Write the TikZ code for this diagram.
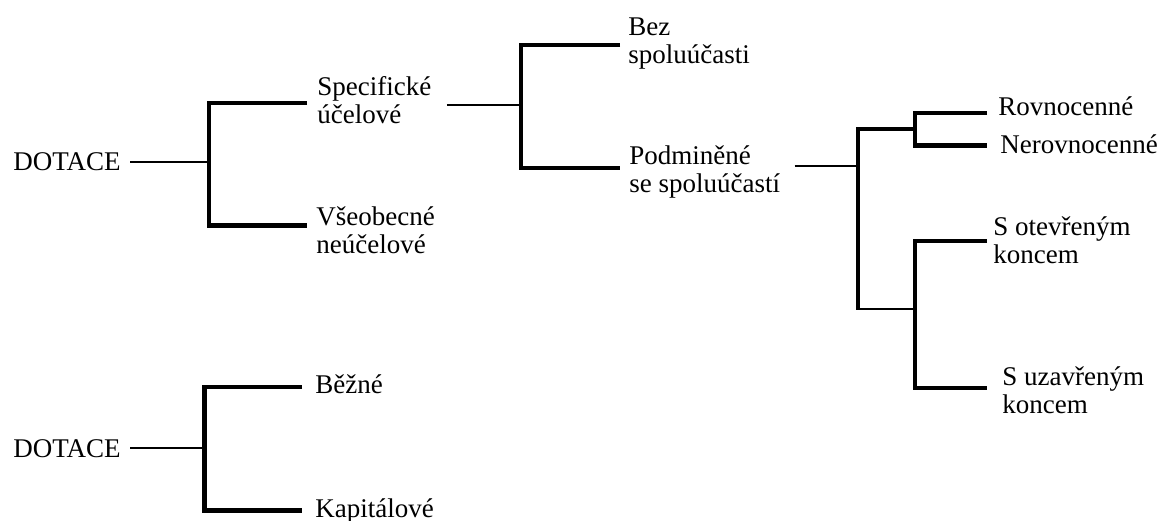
\documentclass[tikz,border=0pt]{standalone}
\usepackage{fontspec}
\setmainfont{Liberation Serif}
\usetikzlibrary{positioning}
\tikzset{
  lbl/.style={anchor=base west, inner sep=0pt, align=left, font=\fontsize{13.5}{14}\selectfont},
  stem/.style={line width=0.75pt},
  fork/.style={line width=2.3pt, line join=miter},
  foot/.style={line width=1pt}
}

\begin{document}
\begin{tikzpicture}[x=0.5pt,y=-0.5pt]
\useasboundingbox (0,0) rectangle (1162,520);
% first tree (two-line labels sit on their last baseline)
\node[lbl] (dotA) at (13,170) {DOTACE};
\node[lbl] (spec) at (317,123) {Specifické\\účelové};
\node[lbl] (vseo) at (316,253) {Všeobecné\\neúčelové};
\node[lbl] (bez) at (628,63) {Bez\\spoluúčasti};
\node[lbl] (podm) at (629,192) {Podminěné\\se spoluúčastí};
\node[lbl] (rovn) at (998,115) {Rovnocenné};
\node[lbl] (nerovn) at (1000,153) {Nerovnocenné};
\node[lbl] (otev) at (993,263) {S otevřeným\\koncem};
\node[lbl] (uzav) at (1002,413) {S uzavřeným\\koncem};
\coordinate (jA) at (209,162);
\coordinate (jB) at (521,105);
\coordinate (jC) at (858,166);
\coordinate (jD) at (915,129);
\coordinate (jE) at (915,309);
% second tree
\node[lbl] (dotB) at (13,457) {DOTACE};
\node[lbl] (bezne) at (315,393) {Běžné};
\node[lbl] (kapit) at (315,517) {Kapitálové};
\coordinate (jF) at (204.5,448);

\draw[stem] ([xshift=4.5pt]dotA.east |- jA) -- (jA);
\draw[fork] (307,103) -| (209,225.5) -- (307,225.5);
\draw[stem] ([xshift=7.5pt]spec.east |- jB) -- (jB);
\draw[fork] (620,45) -| (521,168) -- (620,168);
\draw[stem] ([xshift=7pt]podm.east |- jC) -- (jC);
\draw[fork] (jD) -| (858,310);
\draw[foot] (858,309) -- (jE);
\draw[fork] (987,113) -| (915,145.5) -- (987,145.5);
\draw[fork] (987,241) -| (915,388) -- (987,388);
\draw[stem] ([xshift=4.5pt]dotB.east |- jF) -- (jF);
\draw[fork] (302,387) -| (204.5,510.5) -- (302,510.5);
\end{tikzpicture}
\end{document}
